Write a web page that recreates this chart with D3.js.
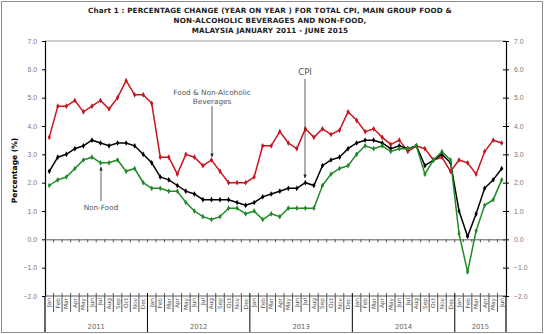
<!DOCTYPE html>
<html>
<head>
<meta charset="utf-8">
<script src="https://cdn.jsdelivr.net/npm/d3@7"></script>
<style>
  body { margin: 0; background: #fff; }
  svg { display: block; font-family: "DejaVu Sans", sans-serif; }
</style>
</head>
<body>
<div id="chart"></div>
<script>
// months Jan 2011 - Jun 2015
const monthNames = ["Jan","Feb","Mar","Apr","May","Jun","Jul","Aug","Sep","Oct","Nov","Dec"];
const years = [2011, 2012, 2013, 2014, 2015];
const yTicks = [-2, -1, 0, 1, 2, 3, 4, 5, 6, 7];

const cpi = [
  2.4, 2.9, 3.0, 3.2, 3.3, 3.5, 3.4, 3.3, 3.4, 3.4, 3.3, 3.0,
  2.7, 2.2, 2.1, 1.9, 1.7, 1.6, 1.4, 1.4, 1.4, 1.4, 1.3, 1.2,
  1.3, 1.5, 1.6, 1.7, 1.8, 1.8, 2.0, 1.9, 2.6, 2.8, 2.9, 3.2,
  3.4, 3.5, 3.5, 3.4, 3.2, 3.3, 3.2, 3.3, 2.6, 2.8, 3.0, 2.7,
  1.0, 0.1, 0.9, 1.8, 2.1, 2.5
];
const food = [
  3.6, 4.7, 4.7, 4.9, 4.5, 4.7, 4.9, 4.6, 5.0, 5.6, 5.1, 5.1,
  4.8, 2.9, 2.9, 2.3, 3.0, 2.9, 2.6, 2.8, 2.4, 2.0, 2.0, 2.0,
  2.2, 3.3, 3.3, 3.8, 3.4, 3.2, 3.9, 3.6, 3.9, 3.7, 3.85, 4.5,
  4.2, 3.8, 3.9, 3.6, 3.35, 3.5, 3.1, 3.3, 3.2, 2.8, 2.9, 2.4,
  2.8, 2.7, 2.3, 3.1, 3.5, 3.4
];
const nonFood = [
  1.9, 2.1, 2.2, 2.5, 2.8, 2.9, 2.7, 2.7, 2.8, 2.4, 2.5, 2.0,
  1.8, 1.8, 1.7, 1.7, 1.3, 1.0, 0.8, 0.7, 0.8, 1.1, 1.1, 0.9,
  1.0, 0.7, 0.9, 0.8, 1.1, 1.1, 1.1, 1.1, 1.9, 2.3, 2.5, 2.6,
  3.0, 3.3, 3.2, 3.3, 3.1, 3.2, 3.2, 3.3, 2.3, 2.8, 3.1, 2.8,
  0.2, -1.15, 0.3, 1.2, 1.4, 2.1
];

const months = [];
years.forEach(y => monthNames.forEach(m => {
  if (months.length < cpi.length) months.push({year: y, month: m, key: m + " " + y});
}));

const series = [
  {name: "Food & Non-Alcoholic Beverages", values: food, color: "#c8141e"},
  {name: "CPI", values: cpi, color: "#000000"},
  {name: "Non-Food", values: nonFood, color: "#1f8a26"}
];

const width = 544, height = 334;
const plot = {left: 45, right: 506, top: 41, bottom: 296};

const svg = d3.select("#chart").append("svg")
  .attr("width", width)
  .attr("height", height);

// outer border
svg.append("rect")
  .attr("x", 1.5).attr("y", 1.5)
  .attr("width", width - 3).attr("height", height - 3)
  .attr("fill", "none").attr("stroke", "#8c8c8c");

// title
const title = ["Chart 1 : PERCENTAGE CHANGE (YEAR ON YEAR ) FOR TOTAL CPI, MAIN GROUP FOOD &",
  "NON-ALCOHOLIC BEVERAGES AND NON-FOOD,",
  "MALAYSIA JANUARY 2011 - JUNE 2015"];
svg.append("g").selectAll("text")
  .data(title)
  .join("text")
  .attr("x", 270)
  .attr("y", (d, i) => 13 + i * 10)
  .attr("text-anchor", "middle")
  .attr("font-size", 7.2)
  .attr("font-weight", "bold")
  .attr("letter-spacing", 0.15)
  .attr("fill", "#222")
  .text(d => d);

const x = d3.scaleBand()
  .domain(months.map(d => d.key))
  .range([plot.left, plot.right]);

const y = d3.scaleLinear()
  .domain([-2, 7])
  .range([plot.bottom, plot.top]);

// top gridline
svg.append("line")
  .attr("x1", plot.left).attr("x2", plot.right)
  .attr("y1", y(7)).attr("y2", y(7))
  .attr("stroke", "#9a9a9a");

// left axis
const yAxisL = svg.append("g")
  .attr("transform", `translate(${plot.left},0)`)
  .call(d3.axisLeft(y).tickValues(yTicks).tickFormat(d3.format(".1f")).tickSize(3).tickPadding(5));
// right axis
const yAxisR = svg.append("g")
  .attr("transform", `translate(${plot.right},0)`)
  .call(d3.axisRight(y).tickValues(yTicks).tickFormat(d3.format(".1f")).tickSize(3).tickPadding(5));
yAxisR.selectAll(".tick").append("line")
  .attr("x1", -3).attr("x2", 0).attr("stroke", "#000");

[yAxisL, yAxisR].forEach(g => {
  g.select(".domain").attr("stroke", "#000").attr("stroke-width", 1.2);
  g.selectAll("text").attr("font-size", 6.8).attr("fill", "#777");
});

// axis lines carried down through the label table
svg.append("line")
  .attr("x1", plot.left).attr("x2", plot.left)
  .attr("y1", plot.bottom).attr("y2", height - 2)
  .attr("stroke", "#000").attr("stroke-width", 1.2);
svg.append("line")
  .attr("x1", plot.right).attr("x2", plot.right)
  .attr("y1", plot.bottom).attr("y2", height - 2)
  .attr("stroke", "#000").attr("stroke-width", 1.2);

// zero line with month ticks
svg.append("g")
  .attr("transform", `translate(0,${y(0)})`)
  .call(d3.axisBottom(x).tickValues([]).tickSizeOuter(0))
  .call(g => g.select(".domain").attr("stroke", "#555"));
svg.append("g").selectAll("line")
  .data(months.slice(1))
  .join("line")
  .attr("x1", d => x(d.key)).attr("x2", d => x(d.key))
  .attr("y1", y(0)).attr("y2", y(0) + 3)
  .attr("stroke", "#555");

// bottom category table
svg.append("line")
  .attr("x1", plot.left).attr("x2", plot.right)
  .attr("y1", plot.bottom).attr("y2", plot.bottom)
  .attr("stroke", "#555");
svg.append("g").selectAll("line")
  .data(months.slice(1))
  .join("line")
  .attr("x1", d => x(d.key)).attr("x2", d => x(d.key))
  .attr("y1", plot.bottom - 3)
  .attr("y2", d => d.month === "Jan" ? height - 2 : plot.bottom + 16)
  .attr("stroke", d => d.month === "Jan" ? "#000" : "#555");

svg.append("g").selectAll("text")
  .data(months)
  .join("text")
  .attr("transform", d => `translate(${x(d.key) + x.bandwidth() / 2 + 2},${plot.bottom + 2}) rotate(-90)`)
  .attr("text-anchor", "end")
  .attr("font-size", 5.8)
  .attr("fill", "#555")
  .text(d => d.month);

svg.append("g").selectAll("text")
  .data(years)
  .join("text")
  .attr("x", yr => {
    const ms = months.filter(d => d.year === yr);
    return (x(ms[0].key) + x(ms[ms.length - 1].key) + x.bandwidth()) / 2;
  })
  .attr("y", 329)
  .attr("text-anchor", "middle")
  .attr("font-size", 6.8)
  .attr("fill", "#666")
  .text(d => d);

// y title
svg.append("text")
  .attr("transform", `translate(17,${(plot.top + plot.bottom) / 2 + 2}) rotate(-90)`)
  .attr("text-anchor", "middle")
  .attr("font-size", 7.5)
  .attr("font-weight", "bold")
  .text("Percentage (%)");

// lines
const line = d3.line()
  .x((d, i) => x(months[i].key) + x.bandwidth() / 2)
  .y(d => y(d));

series.forEach(s => {
  svg.append("path")
    .datum(s.values)
    .attr("fill", "none")
    .attr("stroke", s.color)
    .attr("stroke-width", 1.5)
    .attr("d", line);
  svg.append("g").selectAll("path")
    .data(s.values)
    .join("path")
    .attr("transform", (d, i) => `translate(${x(months[i].key) + x.bandwidth() / 2},${y(d)})`)
    .attr("d", d3.symbol(d3.symbolDiamond, 9))
    .attr("fill", s.color);
});

// annotations
const defs = svg.append("defs");
defs.append("marker")
  .attr("id", "arrow")
  .attr("viewBox", "0 0 10 10")
  .attr("refX", 9).attr("refY", 5)
  .attr("markerWidth", 5).attr("markerHeight", 5)
  .attr("orient", "auto")
  .append("path")
  .attr("d", "M0,1 L10,5 L0,9 Z")
  .attr("fill", "#222");

const notes = [
  {lines: ["Food & Non-Alcoholic", "Beverages"], tx: 212, ty: 95, size: 7.3, x1: 212, y1: 106, y2: 157},
  {lines: ["CPI"], tx: 305, ty: 75, size: 8.5, x1: 305, y1: 79, y2: 178},
  {lines: ["Non-Food"], tx: 101, ty: 210, size: 7.3, x1: 101, y1: 201, y2: 167}
];
notes.forEach(n => {
  svg.append("text")
    .attr("text-anchor", "middle")
    .attr("font-size", n.size)
    .attr("fill", "#555")
    .selectAll("tspan")
    .data(n.lines)
    .join("tspan")
    .attr("x", n.tx)
    .attr("y", (d, i) => n.ty + i * 9)
    .text(d => d);
  svg.append("line")
    .attr("x1", n.x1).attr("x2", n.x1)
    .attr("y1", n.y1).attr("y2", n.y2)
    .attr("stroke", "#333").attr("stroke-width", 0.8)
    .attr("marker-end", "url(#arrow)");
});
</script>
</body>
</html>
